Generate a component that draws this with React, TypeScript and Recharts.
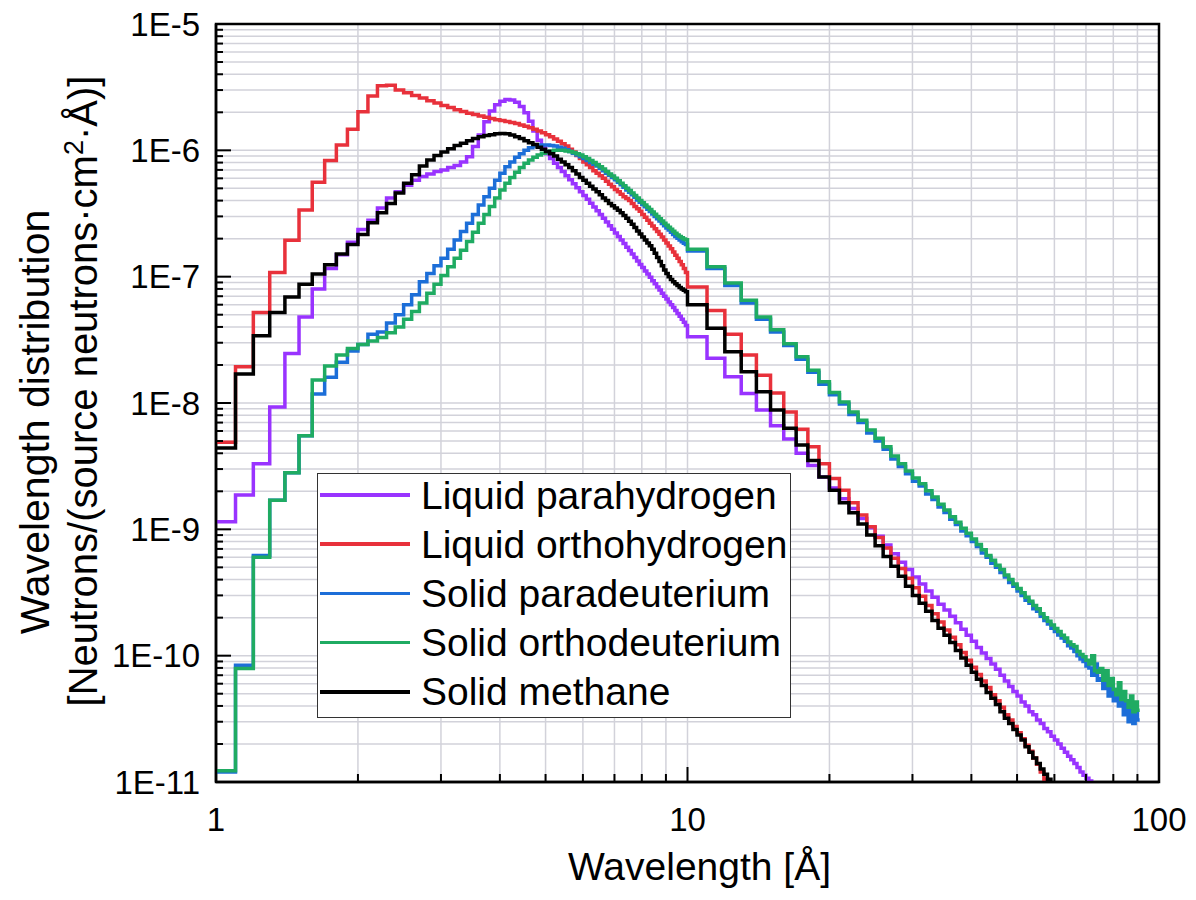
import React from 'react';
import { LineChart, Line, XAxis, YAxis, CartesianGrid, Legend, Label, ReferenceArea } from 'recharts';

const FONT = '"Liberation Sans", Arial, sans-serif';

// Bin left edges (Å): 0.1 Å bins from 1 to 10, 1 Å bins from 10 to 100
const wavelengthEdges = [
  1.0, 1.1, 1.2, 1.3, 1.4, 1.5, 1.6, 1.7, 1.8, 1.9,
  2.0, 2.1, 2.2, 2.3, 2.4, 2.5, 2.6, 2.7, 2.8, 2.9,
  3.0, 3.1, 3.2, 3.3, 3.4, 3.5, 3.6, 3.7, 3.8, 3.9,
  4.0, 4.1, 4.2, 4.3, 4.4, 4.5, 4.6, 4.7, 4.8, 4.9,
  5.0, 5.1, 5.2, 5.3, 5.4, 5.5, 5.6, 5.7, 5.8, 5.9,
  6.0, 6.1, 6.2, 6.3, 6.4, 6.5, 6.6, 6.7, 6.8, 6.9,
  7.0, 7.1, 7.2, 7.3, 7.4, 7.5, 7.6, 7.7, 7.8, 7.9,
  8.0, 8.1, 8.2, 8.3, 8.4, 8.5, 8.6, 8.7, 8.8, 8.9,
  9.0, 9.1, 9.2, 9.3, 9.4, 9.5, 9.6, 9.7, 9.8, 9.9,
  10, 11, 12, 13, 14, 15, 16, 17, 18, 19,
  20, 21, 22, 23, 24, 25, 26, 27, 28, 29,
  30, 31, 32, 33, 34, 35, 36, 37, 38, 39,
  40, 41, 42, 43, 44, 45, 46, 47, 48, 49,
  50, 51, 52, 53, 54, 55, 56, 57, 58, 59,
  60, 61, 62, 63, 64, 65, 66, 67, 68, 69,
  70, 71, 72, 73, 74, 75, 76, 77, 78, 79,
  80, 81, 82, 83, 84, 85, 86, 87, 88, 89,
  90, 91, 92, 93, 94, 95, 96, 97, 98, 99,
  100,
];

const liquidParahydrogen = [
  1.15e-9, 1.87e-9, 3.3e-9, 9.3e-9, 2.47e-8, 4.8e-8, 8.0e-8, 1.16e-7, 1.49e-7, 1.87e-7,
  2.36e-7, 2.8e-7, 3.5e-7, 4.2e-7, 4.7e-7, 5.3e-7, 5.8e-7, 6.2e-7, 6.5e-7, 6.8e-7,
  7.0e-7, 7.3e-7, 7.6e-7, 8.1e-7, 8.9e-7, 1.07e-6, 1.32e-6, 1.68e-6, 2.05e-6, 2.3e-6,
  2.45e-6, 2.52e-6, 2.5e-6, 2.4e-6, 2.22e-6, 1.98e-6, 1.7e-6, 1.42e-6, 1.2e-6, 1.05e-6,
  9.4e-7, 8.6e-7, 7.9e-7, 7.3e-7, 6.8e-7, 6.3e-7, 5.85e-7, 5.45e-7, 5.05e-7, 4.7e-7,
  4.4e-7, 4.1e-7, 3.82e-7, 3.56e-7, 3.32e-7, 3.1e-7, 2.9e-7, 2.71e-7, 2.53e-7, 2.37e-7,
  2.22e-7, 2.08e-7, 1.95e-7, 1.83e-7, 1.71e-7, 1.61e-7, 1.51e-7, 1.42e-7, 1.33e-7, 1.25e-7,
  1.18e-7, 1.11e-7, 1.05e-7, 9.9e-8, 9.3e-8, 8.8e-8, 8.3e-8, 7.85e-8, 7.4e-8, 7.0e-8,
  6.65e-8, 6.3e-8, 6.0e-8, 5.7e-8, 5.4e-8, 5.1e-8, 4.85e-8, 4.6e-8, 4.35e-8, 4.1e-8,
  3.35e-8, 2.26e-8, 1.61e-8, 1.19e-8, 8.8e-9, 6.6e-9, 5.2e-9, 4.0e-9, 3.2e-9, 2.6e-9,
  2.12e-9, 1.75e-9, 1.46e-9, 1.22e-9, 1.03e-9, 8.8e-10, 7.5e-10, 6.4e-10, 5.5e-10, 4.8e-10,
  4.2e-10, 3.7e-10, 3.25e-10, 2.9e-10, 2.55e-10, 2.3e-10, 2.05e-10, 1.82e-10, 1.62e-10, 1.45e-10,
  1.3e-10, 1.16e-10, 1.05e-10, 9.5e-11, 8.6e-11, 7.8e-11, 7.0e-11, 6.3e-11, 5.7e-11, 5.2e-11,
  4.8e-11, 4.3e-11, 4.0e-11, 3.6e-11, 3.4e-11, 3.1e-11, 2.9e-11, 2.65e-11, 2.5e-11, 2.3e-11,
  2.15e-11, 2.0e-11, 1.85e-11, 1.72e-11, 1.6e-11, 1.5e-11, 1.4e-11, 1.3e-11, 1.2e-11, 1.13e-11,
  1.07e-11, 1.02e-11, 8e-12,
];

const liquidOrthohydrogen = [
  4.9e-9, 1.94e-8, 5.2e-8, 1.08e-7, 1.94e-7, 3.37e-7, 5.6e-7, 8.3e-7, 1.1e-6, 1.47e-6,
  2.02e-6, 2.69e-6, 3.25e-6, 3.27e-6, 3.0e-6, 2.85e-6, 2.72e-6, 2.6e-6, 2.47e-6, 2.37e-6,
  2.26e-6, 2.18e-6, 2.1e-6, 2.03e-6, 1.97e-6, 1.92e-6, 1.87e-6, 1.83e-6, 1.79e-6, 1.75e-6,
  1.72e-6, 1.69e-6, 1.66e-6, 1.63e-6, 1.59e-6, 1.55e-6, 1.51e-6, 1.47e-6, 1.42e-6, 1.38e-6,
  1.33e-6, 1.28e-6, 1.23e-6, 1.18e-6, 1.13e-6, 1.08e-6, 1.02e-6, 9.7e-7, 9.1e-7, 8.6e-7,
  8.1e-7, 7.7e-7, 7.3e-7, 6.9e-7, 6.6e-7, 6.3e-7, 6.0e-7, 5.7e-7, 5.4e-7, 5.15e-7,
  4.9e-7, 4.7e-7, 4.5e-7, 4.3e-7, 4.15e-7, 4.0e-7, 3.8e-7, 3.6e-7, 3.45e-7, 3.3e-7,
  3.1e-7, 2.95e-7, 2.8e-7, 2.65e-7, 2.52e-7, 2.4e-7, 2.28e-7, 2.17e-7, 2.06e-7, 1.95e-7,
  1.85e-7, 1.75e-7, 1.66e-7, 1.57e-7, 1.48e-7, 1.4e-7, 1.32e-7, 1.24e-7, 1.16e-7, 1.08e-7,
  8.3e-8, 5.4e-8, 3.5e-8, 2.4e-8, 1.66e-8, 1.2e-8, 8.5e-9, 6.2e-9, 4.5e-9, 3.3e-9,
  2.53e-9, 2.04e-9, 1.62e-9, 1.3e-9, 1.05e-9, 8.6e-10, 7.1e-10, 5.9e-10, 4.9e-10, 4.1e-10,
  3.45e-10, 2.95e-10, 2.5e-10, 2.15e-10, 1.85e-10, 1.6e-10, 1.4e-10, 1.22e-10, 1.06e-10, 9.2e-11,
  8.1e-11, 7.1e-11, 6.3e-11, 5.6e-11, 4.9e-11, 4.4e-11, 3.9e-11, 3.4e-11, 3.1e-11, 2.75e-11,
  2.45e-11, 2.2e-11, 1.95e-11, 1.75e-11, 1.55e-11, 1.38e-11, 1.2e-11, 1.05e-11, 8e-12,
];

const solidParadeuterium = [
  1.2e-11, 8.4e-11, 6.2e-10, 1.7e-9, 2.8e-9, 5.5e-9, 1.18e-8, 1.6e-8, 2.1e-8, 2.58e-8,
  2.9e-8, 3.5e-8, 3.65e-8, 4.3e-8, 5.0e-8, 6.0e-8, 7.2e-8, 9.1e-8, 1.06e-7, 1.22e-7,
  1.4e-7, 1.65e-7, 1.95e-7, 2.28e-7, 2.65e-7, 3.1e-7, 3.7e-7, 4.3e-7, 5.0e-7, 5.8e-7,
  6.6e-7, 7.4e-7, 8.1e-7, 8.8e-7, 9.4e-7, 1.0e-6, 1.05e-6, 1.08e-6, 1.1e-6, 1.1e-6,
  1.1e-6, 1.09e-6, 1.08e-6, 1.06e-6, 1.04e-6, 1.01e-6, 9.8e-7, 9.5e-7, 9.2e-7, 8.9e-7,
  8.6e-7, 8.3e-7, 8.0e-7, 7.75e-7, 7.5e-7, 7.2e-7, 6.9e-7, 6.6e-7, 6.35e-7, 6.1e-7,
  5.85e-7, 5.6e-7, 5.35e-7, 5.1e-7, 4.85e-7, 4.65e-7, 4.45e-7, 4.25e-7, 4.05e-7, 3.88e-7,
  3.72e-7, 3.57e-7, 3.42e-7, 3.28e-7, 3.14e-7, 3.0e-7, 2.88e-7, 2.76e-7, 2.64e-7, 2.53e-7,
  2.43e-7, 2.34e-7, 2.25e-7, 2.16e-7, 2.08e-7, 2.01e-7, 1.95e-7, 1.89e-7, 1.84e-7, 1.8e-7,
  1.6e-7, 1.16e-7, 8.5e-8, 6.2e-8, 4.6e-8, 3.65e-8, 2.85e-8, 2.22e-8, 1.75e-8, 1.41e-8,
  1.16e-8, 9.8e-9, 8.1e-9, 7.0e-9, 5.8e-9, 5.0e-9, 4.3e-9, 3.6e-9, 3.15e-9, 2.75e-9,
  2.4e-9, 2.2e-9, 1.9e-9, 1.72e-9, 1.5e-9, 1.36e-9, 1.2e-9, 1.09e-9, 9.7e-10, 8.9e-10,
  8.0e-10, 7.3e-10, 6.5e-10, 6.0e-10, 5.4e-10, 5.0e-10, 4.55e-10, 4.2e-10, 3.8e-10, 3.55e-10,
  3.25e-10, 3.0e-10, 2.75e-10, 2.6e-10, 2.35e-10, 2.25e-10, 2.05e-10, 1.9e-10, 1.78e-10, 1.65e-10,
  1.55e-10, 1.46e-10, 1.38e-10, 1.3e-10, 1.2e-10, 1.15e-10, 1.08e-10, 1.0e-10, 9.4e-11, 9.0e-11,
  8.3e-11, 8.0e-11, 7.0e-11, 8.6e-11, 6.4e-11, 6.6e-11, 5.5e-11, 6.2e-11, 4.8e-11, 5.8e-11,
  4.4e-11, 5.4e-11, 4.0e-11, 4.7e-11, 3.4e-11, 4.2e-11, 3.0e-11, 3.9e-11, 2.9e-11, 3.6e-11,
  3.1e-11,
];

const solidOrthodeuterium = [
  1.23e-11, 7.9e-11, 6.0e-10, 1.7e-9, 2.8e-9, 5.5e-9, 1.52e-8, 1.96e-8, 2.4e-8, 2.7e-8,
  2.9e-8, 3.1e-8, 3.3e-8, 3.6e-8, 4.0e-8, 4.6e-8, 5.3e-8, 6.2e-8, 7.4e-8, 8.7e-8,
  1.02e-7, 1.2e-7, 1.4e-7, 1.62e-7, 1.9e-7, 2.25e-7, 2.65e-7, 3.1e-7, 3.6e-7, 4.2e-7,
  4.85e-7, 5.5e-7, 6.1e-7, 6.7e-7, 7.3e-7, 7.9e-7, 8.4e-7, 8.8e-7, 9.2e-7, 9.5e-7,
  9.7e-7, 9.9e-7, 1.0e-6, 1.0e-6, 1.0e-6, 9.9e-7, 9.8e-7, 9.6e-7, 9.4e-7, 9.2e-7,
  8.9e-7, 8.6e-7, 8.3e-7, 8.0e-7, 7.7e-7, 7.4e-7, 7.1e-7, 6.8e-7, 6.5e-7, 6.25e-7,
  6.0e-7, 5.75e-7, 5.5e-7, 5.25e-7, 5.0e-7, 4.8e-7, 4.6e-7, 4.4e-7, 4.2e-7, 4.0e-7,
  3.85e-7, 3.7e-7, 3.55e-7, 3.4e-7, 3.25e-7, 3.12e-7, 3.0e-7, 2.88e-7, 2.76e-7, 2.65e-7,
  2.55e-7, 2.46e-7, 2.37e-7, 2.29e-7, 2.21e-7, 2.14e-7, 2.08e-7, 2.03e-7, 1.99e-7, 1.96e-7,
  1.65e-7, 1.2e-7, 8.9e-8, 6.5e-8, 4.8e-8, 3.8e-8, 2.95e-8, 2.32e-8, 1.82e-8, 1.47e-8,
  1.21e-8, 1.02e-8, 8.5e-9, 7.3e-9, 6.1e-9, 5.25e-9, 4.5e-9, 3.8e-9, 3.3e-9, 2.9e-9,
  2.55e-9, 2.3e-9, 2.02e-9, 1.8e-9, 1.58e-9, 1.42e-9, 1.26e-9, 1.14e-9, 1.02e-9, 9.3e-10,
  8.4e-10, 7.6e-10, 6.9e-10, 6.2e-10, 5.7e-10, 5.2e-10, 4.8e-10, 4.35e-10, 4.0e-10, 3.7e-10,
  3.4e-10, 3.15e-10, 2.9e-10, 2.7e-10, 2.5e-10, 2.35e-10, 2.15e-10, 2.0e-10, 1.87e-10, 1.75e-10,
  1.64e-10, 1.55e-10, 1.45e-10, 1.38e-10, 1.28e-10, 1.22e-10, 1.18e-10, 1.08e-10, 1.02e-10, 9.8e-11,
  9.2e-11, 8.6e-11, 1.0e-10, 7.6e-11, 7.4e-11, 7.9e-11, 6.4e-11, 7.6e-11, 5.8e-11, 6.6e-11,
  5.4e-11, 4.9e-11, 6.1e-11, 4.5e-11, 5.2e-11, 4.4e-11, 3.9e-11, 4.8e-11, 3.6e-11, 4.3e-11,
  3.7e-11,
];

const solidMethane = [
  4.4e-9, 1.7e-8, 3.4e-8, 5.2e-8, 6.9e-8, 8.7e-8, 1.05e-7, 1.24e-7, 1.51e-7, 1.8e-7,
  2.16e-7, 2.67e-7, 3.2e-7, 3.8e-7, 4.6e-7, 5.5e-7, 6.4e-7, 7.5e-7, 8.4e-7, 9.1e-7,
  9.7e-7, 1.03e-6, 1.09e-6, 1.14e-6, 1.19e-6, 1.24e-6, 1.28e-6, 1.31e-6, 1.33e-6, 1.35e-6,
  1.36e-6, 1.35e-6, 1.32e-6, 1.28e-6, 1.24e-6, 1.19e-6, 1.15e-6, 1.11e-6, 1.06e-6, 1.02e-6,
  9.8e-7, 9.4e-7, 9.0e-7, 8.5e-7, 8.1e-7, 7.7e-7, 7.3e-7, 6.9e-7, 6.5e-7, 6.1e-7,
  5.8e-7, 5.5e-7, 5.2e-7, 4.95e-7, 4.7e-7, 4.45e-7, 4.2e-7, 4.0e-7, 3.8e-7, 3.65e-7,
  3.5e-7, 3.35e-7, 3.2e-7, 3.05e-7, 2.9e-7, 2.75e-7, 2.6e-7, 2.45e-7, 2.3e-7, 2.18e-7,
  2.06e-7, 1.95e-7, 1.85e-7, 1.76e-7, 1.65e-7, 1.53e-7, 1.42e-7, 1.32e-7, 1.22e-7, 1.13e-7,
  1.06e-7, 1.0e-7, 9.5e-8, 9.1e-8, 8.8e-8, 8.5e-8, 8.2e-8, 8.0e-8, 7.8e-8, 7.6e-8,
  6.0e-8, 3.9e-8, 2.55e-8, 1.77e-8, 1.23e-8, 8.8e-9, 6.3e-9, 4.65e-9, 3.5e-9, 2.6e-9,
  2.04e-9, 1.62e-9, 1.35e-9, 1.1e-9, 9.0e-10, 7.4e-10, 6.1e-10, 5.1e-10, 4.25e-10, 3.55e-10,
  3.0e-10, 2.6e-10, 2.25e-10, 1.9e-10, 1.65e-10, 1.45e-10, 1.27e-10, 1.1e-10, 9.6e-11, 8.4e-11,
  7.4e-11, 6.5e-11, 5.8e-11, 5.1e-11, 4.6e-11, 4.1e-11, 3.6e-11, 3.2e-11, 2.9e-11, 2.6e-11,
  2.35e-11, 2.15e-11, 1.9e-11, 1.72e-11, 1.55e-11, 1.4e-11, 1.27e-11, 1.15e-11, 1.05e-11, 8e-12,
];

const xTicks = [1, 2, 3, 4, 5, 6, 7, 8, 9, 10, 20, 30, 40, 50, 60, 70, 80, 90, 100];
const yTicks = [
  1e-11, 2e-11, 3e-11, 4e-11, 5e-11, 6e-11, 7e-11, 8e-11, 9e-11,
  1e-10, 2e-10, 3e-10, 4e-10, 5e-10, 6e-10, 7e-10, 8e-10, 9e-10,
  1e-9, 2e-9, 3e-9, 4e-9, 5e-9, 6e-9, 7e-9, 8e-9, 9e-9,
  1e-8, 2e-8, 3e-8, 4e-8, 5e-8, 6e-8, 7e-8, 8e-8, 9e-8,
  1e-7, 2e-7, 3e-7, 4e-7, 5e-7, 6e-7, 7e-7, 8e-7, 9e-7,
  1e-6, 2e-6, 3e-6, 4e-6, 5e-6, 6e-6, 7e-6, 8e-6, 9e-6,
  1e-5,
];

const seriesDefs = [
  { key: 'lpH2', name: 'Liquid parahydrogen', color: '#9933FF', values: liquidParahydrogen },
  { key: 'loH2', name: 'Liquid orthohydrogen', color: '#E8313B', values: liquidOrthohydrogen },
  { key: 'spD2', name: 'Solid paradeuterium', color: '#1C6ED8', values: solidParadeuterium },
  { key: 'soD2', name: 'Solid orthodeuterium', color: '#1FAB62', values: solidOrthodeuterium },
  { key: 'sCH4', name: 'Solid methane', color: '#000000', values: solidMethane },
];

const chartData = wavelengthEdges.map((x, i) => {
  const row: Record<string, number | null> = { x };
  seriesDefs.forEach((s) => {
    const v = s.values;
    row[s.key] = i < v.length ? v[i] : i === v.length ? v[v.length - 1] : null;
  });
  return row;
});

const isMajor = (v: number) => Math.abs(Math.log10(v) - Math.round(Math.log10(v))) < 1e-6;

function YTick(props: any) {
  const { x, y, payload } = props;
  const v = payload.value as number;
  const major = isMajor(v);
  return (
    <g>
      <line x1={x} x2={x + (major ? 15 : 7)} y1={y} y2={y} stroke="#000" strokeWidth={2} />
      {major && (
        <text x={x - 16} y={y + 11.5} textAnchor="end" fontSize={33} fontFamily={FONT} fill="#000">
          {'1E' + Math.round(Math.log10(v))}
        </text>
      )}
    </g>
  );
}

function XTick(props: any) {
  const { x, y, payload } = props;
  const v = payload.value as number;
  const major = isMajor(v);
  return (
    <g>
      <line x1={x} x2={x} y1={y} y2={y - (major ? 15 : 8)} stroke="#000" strokeWidth={2} />
      {major && (
        <text x={x} y={y + 49} textAnchor="middle" fontSize={33} fontFamily={FONT} fill="#000">
          {String(v)}
        </text>
      )}
    </g>
  );
}

function YTitle(props: any) {
  const vb = props.viewBox || { x: 0, y: 24, width: 208, height: 758 };
  const cy = vb.y + vb.height / 2;
  const b1 = vb.x + 49;
  const b2 = vb.x + 97;
  const c1 = cy + 19;
  const c2 = cy - 12;
  return (
    <g>
      <text x={b1} y={c1} transform={`rotate(-90, ${b1}, ${c1})`} textAnchor="middle" fontSize={41} fontFamily={FONT} fill="#000">
        Wavelength distribution
      </text>
      <text x={b2} y={c2} transform={`rotate(-90, ${b2}, ${c2})`} textAnchor="middle" fontSize={40} fontFamily={FONT} fill="#000">
        <tspan>[Neutrons/(source neutrons·cm</tspan>
        <tspan dy={-14} fontSize={27}>2</tspan>
        <tspan dy={14}>·Å)]</tspan>
      </text>
    </g>
  );
}

function XTitle(props: any) {
  const vb = props.viewBox || { x: 216, y: 782, width: 943, height: 110 };
  const cx = vb.x + vb.width / 2 + 12;
  return (
    <text x={cx} y={vb.y + 98} textAnchor="middle" fontSize={39} fontFamily={FONT} fill="#000">
      Wavelength [Å]
    </text>
  );
}

function LegendBox() {
  return (
    <div
      style={{
        width: 474,
        height: 245,
        boxSizing: 'border-box',
        border: '1.5px solid #333',
        background: '#fff',
        position: 'relative',
        fontFamily: FONT,
      }}
    >
      {seriesDefs.map((s, i) => (
        <div
          key={s.key}
          style={{
            position: 'absolute',
            left: 2,
            top: 21 + i * 49.2 - 24,
            height: 48,
            display: 'flex',
            alignItems: 'center',
          }}
        >
          <div style={{ width: 90, height: 3.5, background: s.color }} />
          <div style={{ marginLeft: 11, fontSize: 39, lineHeight: 1, color: '#000', whiteSpace: 'nowrap' }}>{s.name}</div>
        </div>
      ))}
    </div>
  );
}

export default function App() {
  return (
    <div style={{ width: 1188, height: 892, marginTop: -8, marginLeft: -8, background: '#fff' }}>
      <LineChart width={1188} height={892} data={chartData} margin={{ top: 24, right: 29, bottom: 0, left: 0 }}>
        <CartesianGrid stroke="#d2d2da" strokeWidth={1.5} />
        <XAxis
          dataKey="x"
          type="number"
          scale="log"
          domain={[1, 100]}
          allowDataOverflow
          ticks={xTicks}
          interval={0}
          tick={XTick}
          tickLine={false}
          tickSize={0}
          tickMargin={0}
          height={110}
          axisLine={{ stroke: '#000', strokeWidth: 2.5 }}
        >
          <Label content={XTitle} />
        </XAxis>
        <YAxis
          type="number"
          scale="log"
          domain={[1e-11, 1e-5]}
          allowDataOverflow
          ticks={yTicks}
          interval={0}
          tick={YTick}
          tickLine={false}
          tickSize={0}
          tickMargin={0}
          width={216}
          axisLine={{ stroke: '#000', strokeWidth: 2.5 }}
        >
          <Label content={YTitle} />
        </YAxis>
        {seriesDefs.map((s) => (
          <Line
            key={s.key}
            dataKey={s.key}
            name={s.name}
            type="stepAfter"
            stroke={s.color}
            strokeWidth={3.5}
            dot={false}
            activeDot={false}
            connectNulls={false}
            isAnimationActive={false}
          />
        ))}
        <ReferenceArea x1={1} x2={100} y1={1e-11} y2={1e-5} fill="none" stroke="#000" strokeWidth={2.5} ifOverflow="visible" />
        <Legend
          layout="vertical"
          verticalAlign="middle"
          align="center"
          wrapperStyle={{ left: 317, top: 473, width: 474, height: 245 }}
          content={() => <LegendBox />}
        />
      </LineChart>
    </div>
  );
}
